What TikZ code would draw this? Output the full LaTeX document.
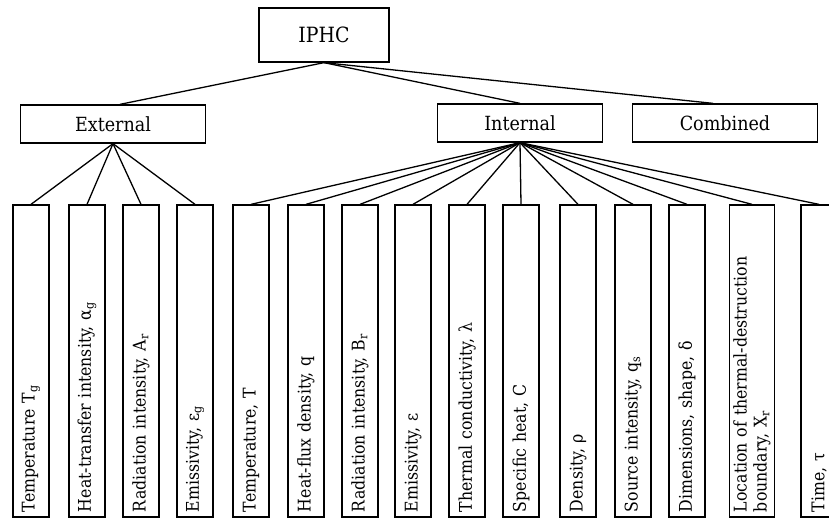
\documentclass[tikz,border=0pt]{standalone}
\usepackage{fontspec}
\setmainfont{DejaVu Serif Condensed}
\setlength{\parindent}{0pt}
\usetikzlibrary{positioning}

\begin{document}
\begin{tikzpicture}
            [x=1pt,y=-1pt,line width=1.3pt,every node/.style={draw, rectangle, inner sep=4pt, font=\fontsize{17.5}{20}\selectfont},
             top/.style={font=\fontsize{19.5}{22}\selectfont, minimum height=38pt},
             leaf/.style={rotate=90, text width=302pt, align=left, inner xsep=5pt, minimum height=36pt}]
          \useasboundingbox (0,0) rectangle (829,522);

          \node[minimum width=130pt, minimum height=54pt, font=\fontsize{21}{24}\selectfont] (n0) at (324,35) {IPHC};
          \node[top, minimum width=185pt] (n1) at (113,124) {External};
          \node[top, minimum width=165pt] (n2) at (520,123) {Internal};
          \node[top, minimum width=185pt] (n3) at (725,123) {Combined};

          \node[leaf] (l1) at (31,361) {Temperature T\textsubscript{g}};
          \node[leaf] (l2) at (87,361) {Heat-transfer intensity, α\textsubscript{g}};
          \node[leaf] (l3) at (141,361) {Radiation intensity, A\textsubscript{r}};
          \node[leaf] (l4) at (195,361) {Emissivity, ε\textsubscript{g}};
          \node[leaf] (l5) at (251,361) {Temperature, T};
          \node[leaf] (l6) at (306,361) {Heat-flux density, q};
          \node[leaf] (l7) at (360,361) {Radiation intensity, B\textsubscript{r}};
          \node[leaf] (l8) at (413,361) {Emissivity, ε};
          \node[leaf] (l9) at (467,361) {Thermal conductivity, λ};
          \node[leaf] (l10) at (521,361) {Specific heat, C};
          \node[leaf] (l11) at (578,361) {Density, ρ};
          \node[leaf] (l12) at (633,361) {Source intensity, q\textsubscript{s}};
          \node[leaf] (l13) at (687,361) {Dimensions, shape, δ};
          \node[leaf] (l14) at (752,361) {Location of thermal-destruction\\boundary, X\textsubscript{r}};
          \node[leaf] (l15) at (819,361) {Time, τ};

          \draw (n0.south) -- ([xshift=7pt]n1.north);
          \draw (n0.south) -- (n2.north);
          \draw (n0.south) -- ([xshift=-12pt]n3.north);

          \foreach \to in {l1, l2, l3, l4}
            \draw (n1.south) -- (\to.east);

          \foreach \to in {l5, l6, l7, l8, l9, l10, l11, l12, l13, l14, l15}
            \draw (n2.south) -- (\to.east);
        \end{tikzpicture}
\end{document}
